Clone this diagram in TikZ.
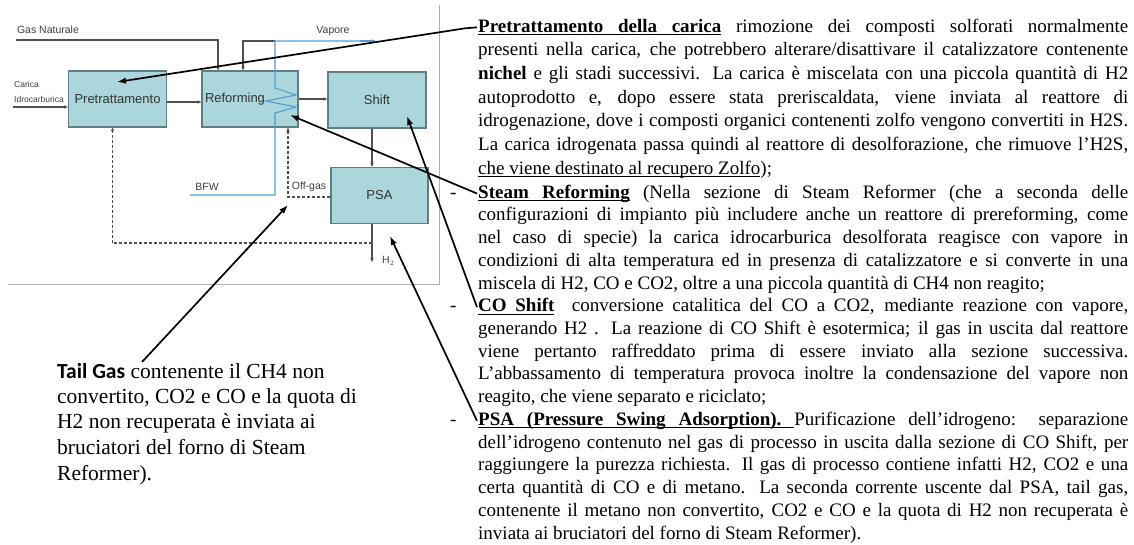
\documentclass[tikz,border=0pt]{standalone}
\usepackage{fontspec}
\setmainfont{Liberation Serif}
\setsansfont{Liberation Sans}
\newfontfamily\calfont{Carlito}
\usetikzlibrary{arrows.meta}

\definecolor{boxfill}{RGB}{170,214,220}
\definecolor{boxline}{RGB}{95,125,130}
\definecolor{flowgray}{RGB}{80,80,80}
\definecolor{steamblue}{RGB}{85,155,210}
\definecolor{framegray}{RGB}{175,175,175}

\newcommand\fullrow[1]{\makebox[650pt][s]{#1}}
\newcommand\ulword[1]{\setbox0\hbox{#1}\rlap{\rule[-2.8pt]{\wd0}{0.9pt}}\box0}
\newcommand\ulsp{\leaders\hrule height -1.9pt depth 2.8pt\hskip\fontdimen2\font plus\fontdimen3\font minus\fontdimen4\font}

\tikzset{
  unit/.style={draw=boxline, fill=boxfill, line width=1.3pt, minimum width=98pt,
    minimum height=56pt, inner sep=0pt, text=black!80,
    font=\sffamily\fontsize{13}{15}\selectfont},
  unitlbl/.style={inner sep=0pt, text=black!80, font=\sffamily\fontsize{13}{15}\selectfont},
  flow/.style={draw=flowgray, line width=1.1pt, -{Stealth[length=4pt,width=3.5pt]}},
  recyc/.style={flow, dash pattern=on 3pt off 2pt},
  steam/.style={draw=steamblue, line width=1.1pt},
  pointer/.style={draw=black, line width=1.7pt, -{Latex[length=9pt,width=6.5pt]}},
  lbl/.style={inner sep=0pt, text=black!75, font=\sffamily\fontsize{10.5}{12}\selectfont},
  row/.style={anchor=base west, inner sep=0pt, font=\fontsize{19}{21}\selectfont},
  note/.style={anchor=base west, inner sep=0pt, font=\fontsize{21.5}{24}\selectfont}
}

\begin{document}
\begin{tikzpicture}[x=1pt,y=-1pt]
\useasboundingbox (0,0) rectangle (1134,544);

% scheme frame
\draw[framegray, line width=0.8pt] (8,284) -| (439,5);

% process units
\node[unit] (pretr) at (117.5,99) {Pretrattamento};
\node[unit, minimum width=96pt] (reform) at (250,99) {};
\node[unitlbl] (reflbl) at (235,99) {Reforming};
\node[unit] (shift) at (377,100) {Shift};
\node[unit, minimum width=97pt] (psa) at (379.5,195.5) {PSA};

% stream labels
\node[lbl] (gnlbl) at (48,30) {Gas Naturale};
\node[lbl, align=left, anchor=south west, font=\sffamily\fontsize{8.5}{15}\selectfont] (cilbl) at (14,103) {Carica\\Idrocarburica};
\node[lbl] (vaplbl) at (333,31) {Vapore};
\node[lbl] (bfwlbl) at (207,187) {BFW};
\node[lbl] (offlbl) at (309,187) {Off-gas};
\node[lbl, anchor=west] (h2lbl) at (382,261) {H$_2$};

\coordinate (gn) at (16,40);
\coordinate (cin) at (13,107);
\coordinate (bfw) at (190,195);
\coordinate (coilB) at (275,113);
\coordinate (coilT) at (275,88);
\coordinate (vap) at (375,41);
\coordinate (h2) at (372,262);
\coordinate (rec) at (372,243);

% main flows
\draw[flow] (gn) -| ([xshift=-32pt]reform.north);
\draw[flow] (cin) -- (cin -| pretr.west);
\draw[flow] ([yshift=-3pt]pretr.east) -- ([yshift=-3pt]reform.west);
\draw[flow] (reform.east) -- (reform.east -| shift.west);
\draw[flow] ([xshift=-5pt]shift.south) -- ([xshift=-5pt]shift.south |- psa.north);
\draw[flow] (h2 |- psa.south) -- (h2);
\draw[flow] (coilT |- vap) -| ([xshift=-7pt]reform.north);

% recycles
\draw[recyc] (rec) -| ([xshift=-5pt]pretr.south);
\draw[recyc] ([yshift=-1.5pt]psa.west) -| ([xshift=38pt]reform.south);

% steam coil
\draw[steam] (bfw) -| (coilB) -- (296,107) -- (266,101) -- (296,95) -- (coilT) |- (vap);
\draw[steam, -{Stealth[length=4pt,width=3.5pt]}] (360,41) -- (vap);

% description
\node[row] (r1) at (478,32) {\fullrow{{\bfseries\ulword{Pretrattamento}\ulsp\ulword{della}\ulsp\ulword{carica}} rimozione dei composti solforati normalmente}};
\node[row] (r2) at (478,55.7) {\fullrow{presenti nella carica, che potrebbero alterare/disattivare il catalizzatore contenente}};
\node[row] (r3) at (478,79.4) {\fullrow{\textbf{nichel} e gli stadi successivi. La carica è miscelata con una piccola quantità di H2}};
\node[row] (r4) at (478,103.1) {\fullrow{autoprodotto e, dopo essere stata preriscaldata, viene inviata al reattore di}};
\node[row] (r5) at (478,126.8) {\fullrow{idrogenazione, dove i composti organici contenenti zolfo vengono convertiti in H2S.}};
\node[row] (r6) at (478,150.5) {\fullrow{La carica idrogenata passa quindi al reattore di desolforazione, che rimuove l’H2S,}};
\node[row] (r7) at (478,174.2) {\ulword{che}\ulsp\ulword{viene}\ulsp\ulword{destinato}\ulsp\ulword{al}\ulsp\ulword{recupero}\ulsp\ulword{Zolfo});};
\node[row] (d8) at (450,198.1) {-};
\node[row] (r8) at (478,198.1) {\fullrow{{\bfseries\ulword{Steam}\ulsp\ulword{Reforming}} (Nella sezione di Steam Reformer (che a seconda delle}};
\node[row] (r9) at (478,220.8) {\fullrow{configurazioni di impianto più includere anche un reattore di prereforming, come}};
\node[row] (r10) at (478,243.6) {\fullrow{nel caso di specie) la carica idrocarburica desolforata reagisce con vapore in}};
\node[row] (r11) at (478,266.3) {\fullrow{condizioni di alta temperatura ed in presenza di catalizzatore e si converte in una}};
\node[row] (r12) at (478,289) {miscela di H2, CO e CO2, oltre a una piccola quantità di CH4 non reagito;};
\node[row] (d13) at (450,311.8) {-};
\node[row] (r13) at (478,311.8) {\fullrow{{\bfseries\ulword{CO}\ulsp\ulword{Shift}}\ \ conversione catalitica del CO a CO2, mediante reazione con vapore,}};
\node[row] (r14) at (478,334.5) {\fullrow{generando H2 . La reazione di CO Shift è esotermica; il gas in uscita dal reattore}};
\node[row] (r15) at (478,357.2) {\fullrow{viene pertanto raffreddato prima di essere inviato alla sezione successiva.}};
\node[row] (r16) at (478,379.9) {\fullrow{L’abbassamento di temperatura provoca inoltre la condensazione del vapore non}};
\node[row] (r17) at (478,402.7) {reagito, che viene separato e riciclato;};
\node[row] (d18) at (450,425.4) {-};
\node[row] (r18) at (478,425.4) {\fullrow{{\bfseries\ulword{PSA}\ulsp\ulword{(Pressure}\ulsp\ulword{Swing}\ulsp\ulword{Adsorption).}\ulsp}Purificazione dell’idrogeno: separazione}};
\node[row] (r19) at (478,448.1) {\fullrow{dell'idrogeno contenuto nel gas di processo in uscita dalla sezione di CO Shift, per}};
\node[row] (r20) at (478,470.9) {\fullrow{raggiungere la purezza richiesta. Il gas di processo contiene infatti H2, CO2 e una}};
\node[row] (r21) at (478,493.6) {\fullrow{certa quantità di CO e di metano. La seconda corrente uscente dal PSA, tail gas,}};
\node[row] (r22) at (478,516.3) {\fullrow{contenente il metano non convertito, CO2 e CO e la quota di H2 non recuperata è}};
\node[row] (r23) at (478,539) {inviata ai bruciatori del forno di Steam Reformer).};

% tail gas note
\node[note] (t1) at (57,378) {{\calfont\bfseries Tail Gas} contenente il CH4 non};
\node[note] (t2) at (57,403) {convertito, CO2 e CO e la quota di};
\node[note] (t3) at (57,428) {H2 non recuperata è inviata ai};
\node[note] (t4) at (57,454) {bruciatori del forno di Steam};
\node[note] (t5) at (57,480) {Reformer).};

% pointers
\coordinate (tipPre) at (117,82);
\coordinate (tipRef) at (290,115);
\coordinate (tipShift) at (407,116);
\coordinate (tipPSA) at (390,236);
\coordinate (tipOff) at (288,205);
\coordinate (tailStart) at (142,362);
\draw[pointer] ([xshift=-1pt]r1.west) -- ++(-12,1) -- (tipPre);
\draw[pointer] ([xshift=-1pt]r8.west) -- (tipRef);
\draw[pointer] ([xshift=-1pt]r13.west) -- (tipShift);
\draw[pointer] ([xshift=-1pt]r18.west) -- (tipPSA);
\draw[pointer] (tailStart) -- (tipOff);
\end{tikzpicture}
\end{document}
